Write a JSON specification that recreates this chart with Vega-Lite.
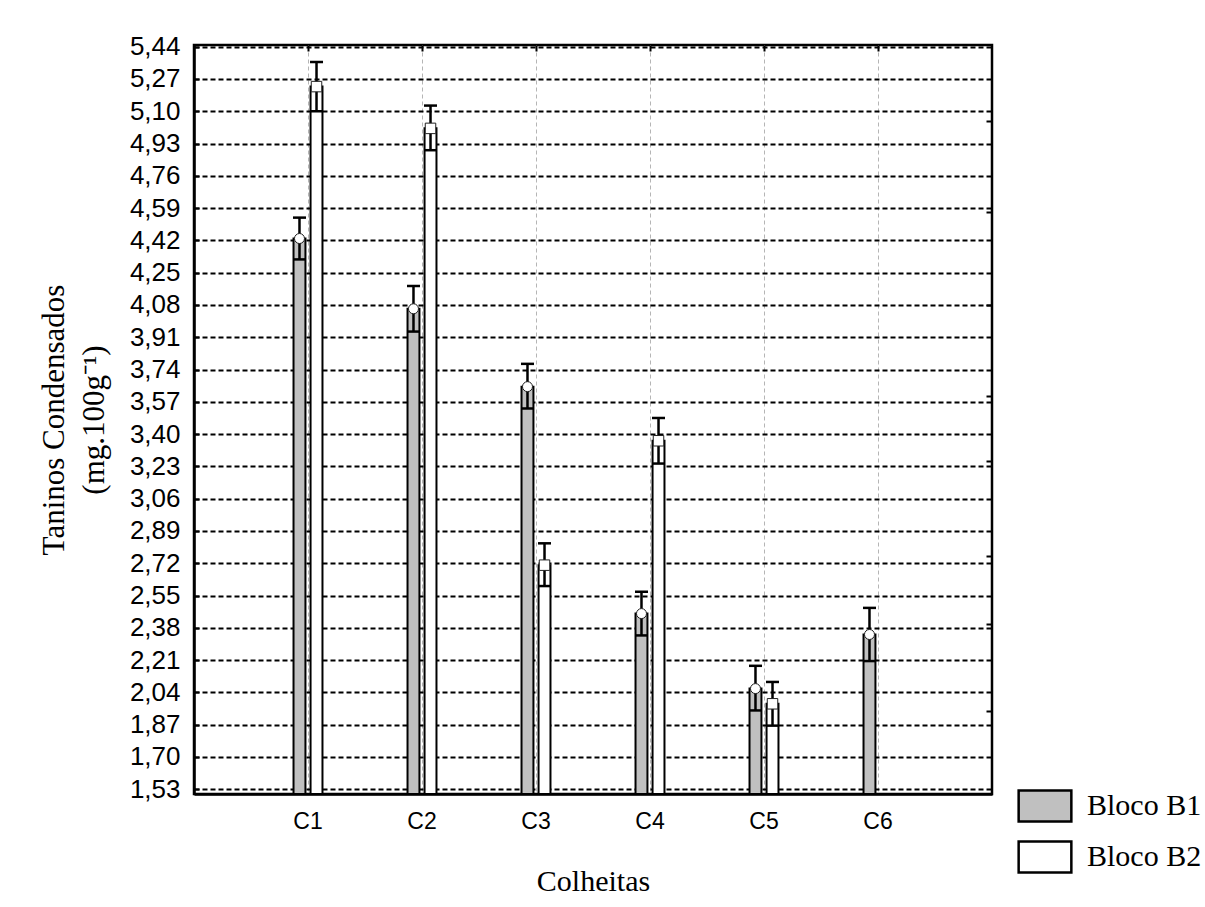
{
  "$schema": "https://vega.github.io/schema/vega-lite/v6.json",
  "width": 798,
  "height": 749,
  "autosize": {"type": "none"},
  "padding": {"left": 194, "top": 45, "right": 213, "bottom": 113},
  "background": "white",
  "config": {
    "view": {"stroke": "black", "strokeWidth": 2.5},
    "axis": {"labelColor": "black", "titleColor": "black", "titleFontWeight": "normal"}
  },
  "data": {
    "values": [
      {"colheita": "C1", "bloco": "Bloco B1", "media": 4.43, "lo": 4.32, "hi": 4.54},
      {"colheita": "C1", "bloco": "Bloco B2", "media": 5.23, "lo": 5.10, "hi": 5.36},
      {"colheita": "C2", "bloco": "Bloco B1", "media": 4.06, "lo": 3.94, "hi": 4.18},
      {"colheita": "C2", "bloco": "Bloco B2", "media": 5.01, "lo": 4.895, "hi": 5.13},
      {"colheita": "C3", "bloco": "Bloco B1", "media": 3.65, "lo": 3.535, "hi": 3.77},
      {"colheita": "C3", "bloco": "Bloco B2", "media": 2.71, "lo": 2.60, "hi": 2.825},
      {"colheita": "C4", "bloco": "Bloco B1", "media": 2.455, "lo": 2.34, "hi": 2.57},
      {"colheita": "C4", "bloco": "Bloco B2", "media": 3.365, "lo": 3.245, "hi": 3.485},
      {"colheita": "C5", "bloco": "Bloco B1", "media": 2.06, "lo": 1.945, "hi": 2.18},
      {"colheita": "C5", "bloco": "Bloco B2", "media": 1.98, "lo": 1.865, "hi": 2.095},
      {"colheita": "C6", "bloco": "Bloco B1", "media": 2.345, "lo": 2.205, "hi": 2.485}
    ]
  },
  "resolve": {"axis": {"x": "independent", "y": "independent"}},
  "layer": [
    {
      "mark": {"type": "bar", "stroke": "black", "strokeWidth": 2, "opacity": 1},
      "encoding": {
        "x": {
          "field": "colheita", "type": "nominal",
          "sort": ["C1", "C2", "C3", "C4", "C5", "C6"],
          "scale": {"paddingInner": 0.746, "paddingOuter": 0.873},
          "axis": {
            "orient": "bottom", "bandPosition": 0.5, "labelAngle": 0,
            "labelFont": "Liberation Sans", "labelFontSize": 23, "labelPadding": 16,
            "ticks": false, "domain": true, "domainColor": "black", "domainWidth": 2.5,
            "grid": true, "gridColor": "#b5b5b5", "gridDash": [4, 3], "gridWidth": 1,
            "title": "Colheitas", "titleFont": "Liberation Serif", "titleFontSize": 30, "titlePadding": 33
          }
        },
        "xOffset": {"field": "bloco", "type": "nominal", "scale": {"paddingInner": 0.3, "paddingOuter": 0}},
        "y": {
          "field": "media", "type": "quantitative",
          "scale": {"domain": [1.505, 5.449], "nice": false, "zero": false},
          "axis": {
            "orient": "left",
            "values": [1.53, 1.70, 1.87, 2.04, 2.21, 2.38, 2.55, 2.72, 2.89, 3.06, 3.23, 3.40, 3.57, 3.74, 3.91, 4.08, 4.25, 4.42, 4.59, 4.76, 4.93, 5.10, 5.27, 5.44],
            "format": ".2f", "labelExpr": "replace(datum.label, '.', ',')",
            "labelFont": "Liberation Sans", "labelFontSize": 26, "labelPadding": 19,
            "labelOverlap": false, "labelFlush": false,
            "tickSize": -5, "tickWidth": 2, "tickColor": "black",
            "domain": true, "domainColor": "black", "domainWidth": 2.5,
            "grid": true, "gridColor": "black", "gridDash": [5, 3], "gridWidth": 2,
            "title": ["Taninos Condensados", "(mg.100g⁻¹)"],
            "titleFont": "Liberation Serif", "titleFontSize": 31, "titleLineHeight": 40, "titlePadding": 19
          }
        },
        "y2": {"datum": 1.505},
        "fill": {
          "field": "bloco", "type": "nominal",
          "scale": {"domain": ["Bloco B1", "Bloco B2"], "range": ["#c0c0c0", "#ffffff"]},
          "legend": {
            "orient": "none", "legendX": 834, "legendY": 744, "title": null, "padding": 0,
            "symbolType": "M-1.7,-1H1.7V1H-1.7Z", "symbolSize": 961,
            "symbolStrokeColor": "black", "symbolStrokeWidth": 2.5, "symbolOpacity": 1,
            "labelFont": "Liberation Serif", "labelFontSize": 30, "labelColor": "black",
            "labelOffset": 25, "rowPadding": 9
          }
        }
      }
    },
    {
      "mark": {"type": "rule", "color": "black", "strokeWidth": 2.5},
      "encoding": {
        "x": {
          "field": "colheita", "type": "nominal", "sort": ["C1", "C2", "C3", "C4", "C5", "C6"],
          "axis": {"orient": "top", "bandPosition": 0.5, "labels": false, "domain": false, "grid": false, "ticks": true, "tickSize": -6, "tickWidth": 2, "tickColor": "black", "title": null}
        },
        "xOffset": {"field": "bloco", "type": "nominal"},
        "y": {
          "field": "lo", "type": "quantitative",
          "axis": {"orient": "right", "values": [5.05, 4.57, 4.08, 3.60, 3.26, 2.76, 2.40, 1.94], "labels": false, "domain": false, "grid": false, "ticks": true, "tickSize": -6, "tickWidth": 2, "tickColor": "black", "title": null}
        },
        "y2": {"field": "hi"}
      }
    },
    {
      "mark": {"type": "tick", "color": "black", "size": 13, "thickness": 2.5, "opacity": 1},
      "encoding": {
        "x": {"field": "colheita", "type": "nominal", "sort": ["C1", "C2", "C3", "C4", "C5", "C6"], "axis": null},
        "xOffset": {"field": "bloco", "type": "nominal"},
        "y": {"field": "hi", "type": "quantitative", "axis": null}
      }
    },
    {
      "mark": {"type": "tick", "color": "black", "size": 12, "thickness": 2.5, "opacity": 1},
      "encoding": {
        "x": {"field": "colheita", "type": "nominal", "sort": ["C1", "C2", "C3", "C4", "C5", "C6"], "axis": null},
        "xOffset": {"field": "bloco", "type": "nominal"},
        "y": {"field": "lo", "type": "quantitative", "axis": null}
      }
    },
    {
      "transform": [{"filter": "datum.bloco === 'Bloco B1'"}],
      "mark": {"type": "point", "shape": "circle", "filled": true, "fill": "white", "stroke": "#222", "strokeWidth": 1, "size": 100, "opacity": 1},
      "encoding": {
        "x": {"field": "colheita", "type": "nominal", "sort": ["C1", "C2", "C3", "C4", "C5", "C6"], "axis": null},
        "xOffset": {"field": "bloco", "type": "nominal"},
        "y": {"field": "media", "type": "quantitative", "axis": null}
      }
    },
    {
      "transform": [{"filter": "datum.bloco === 'Bloco B2'"}],
      "mark": {"type": "point", "shape": "square", "filled": true, "fill": "white", "stroke": "#222", "strokeWidth": 1, "size": 110, "opacity": 1},
      "encoding": {
        "x": {"field": "colheita", "type": "nominal", "sort": ["C1", "C2", "C3", "C4", "C5", "C6"], "axis": null},
        "xOffset": {"field": "bloco", "type": "nominal"},
        "y": {"field": "media", "type": "quantitative", "axis": null}
      }
    }
  ]
}
